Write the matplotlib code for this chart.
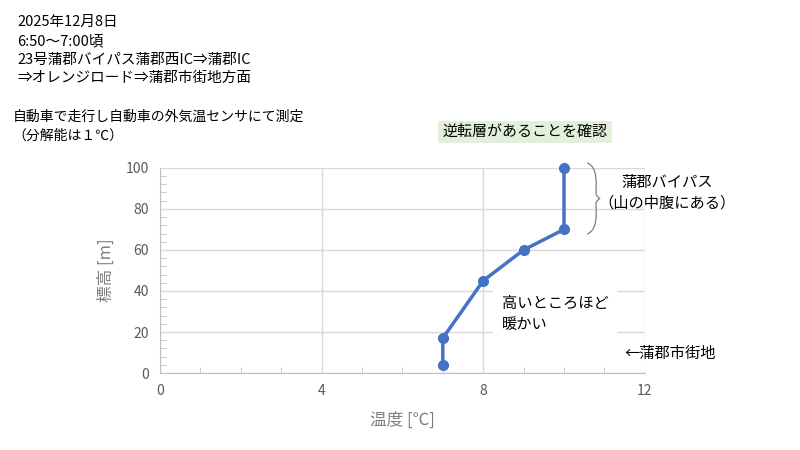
import numpy as np
import matplotlib.pyplot as plt
from matplotlib.path import Path
from matplotlib.patches import PathPatch

plt.rcParams['font.family'] = ['Noto Sans CJK JP', 'DejaVu Sans']

# データ
temp = [7, 7, 8, 9, 10, 10]
height = [4, 17, 45, 60, 70, 100]
x_ticks = [0, 4, 8, 12]
y_ticks = [0, 20, 40, 60, 80, 100]

header = "2025年12月8日\n6:50～7:00頃\n23号蒲郡バイパス蒲郡西IC⇒蒲郡IC\n⇒オレンジロード⇒蒲郡市街地方面"
note = "自動車で走行し自動車の外気温センサにて測定\n（分解能は１℃）"

fig = plt.figure(figsize=(8, 4.5), dpi=100)
ax = fig.add_axes([0.2, 0.171, 0.606, 0.456])

ax.plot(temp, height, color='#4472C4', lw=2.5, marker='o', ms=7, zorder=3, clip_on=False)

ax.set_xlim(0, 12)
ax.set_ylim(0, 100)
ax.set_xticks(x_ticks)
ax.set_yticks(y_ticks)
ax.set_xticks(np.arange(0, 13, 1), minor=True)
ax.set_yticks(np.arange(0, 101, 4), minor=True)
ax.grid(True, which='major', color='#D9D9D9', lw=1)
ax.tick_params(which='major', length=0, labelsize=10, labelcolor='#595959', pad=8)
ax.tick_params(which='minor', direction='in', length=4, color='#BFBFBF')
for s in ['top', 'right']:
    ax.spines[s].set_visible(False)
for s in ['left', 'bottom']:
    ax.spines[s].set_color('#BFBFBF')

ax.set_xlabel("温度 [℃]", fontsize=12, color='#808080', labelpad=10)
ax.set_ylabel("標高 [m]", fontsize=12, color='#808080', labelpad=8)

# 注記
fig.text(0.022, 0.966, header, fontsize=10.5, va='top', linespacing=1.42)
fig.text(0.016, 0.757, note, fontsize=10, va='top', linespacing=1.45)
fig.text(0.656, 0.707, "逆転層があることを確認", fontsize=10.8, ha='center', va='center',
         bbox=dict(facecolor='#E2EFDA', edgecolor='none', pad=3))

fig.text(0.834, 0.571, "蒲郡バイパス\n（山の中腹にある）", fontsize=11, ha='center', va='center',
         linespacing=1.3)
fig.text(0.627, 0.302, "高いところほど\n暖かい", fontsize=11, ha='left', va='center',
         linespacing=1.35, bbox=dict(facecolor='white', edgecolor='none', pad=6), zorder=2)
fig.text(0.781, 0.214, "←蒲郡市街地", fontsize=11, ha='left', va='center',
         bbox=dict(facecolor='white', edgecolor='none', pad=2))

# 中括弧
x0, x1, xm = 0.734, 0.748, 0.750
yt, yb, ym = 0.638, 0.480, 0.559
verts = [(x0, yt), (x1, yt - 0.01), (x1 - 0.003, ym + 0.03), (x1 - 0.003, ym + 0.012),
         (x1 - 0.003, ym + 0.004), (xm, ym), (xm, ym),
         (xm, ym), (x1 - 0.003, ym - 0.004), (x1 - 0.003, ym - 0.012),
         (x1 - 0.003, ym - 0.03), (x1, yb + 0.01), (x0, yb)]
codes = [Path.MOVETO] + [Path.CURVE4] * 12
fig.patches.append(PathPatch(Path(verts, codes), transform=fig.transFigure,
                             fill=False, edgecolor='#7F7F7F', lw=0.9))

fig.savefig('out.png', dpi=100)
